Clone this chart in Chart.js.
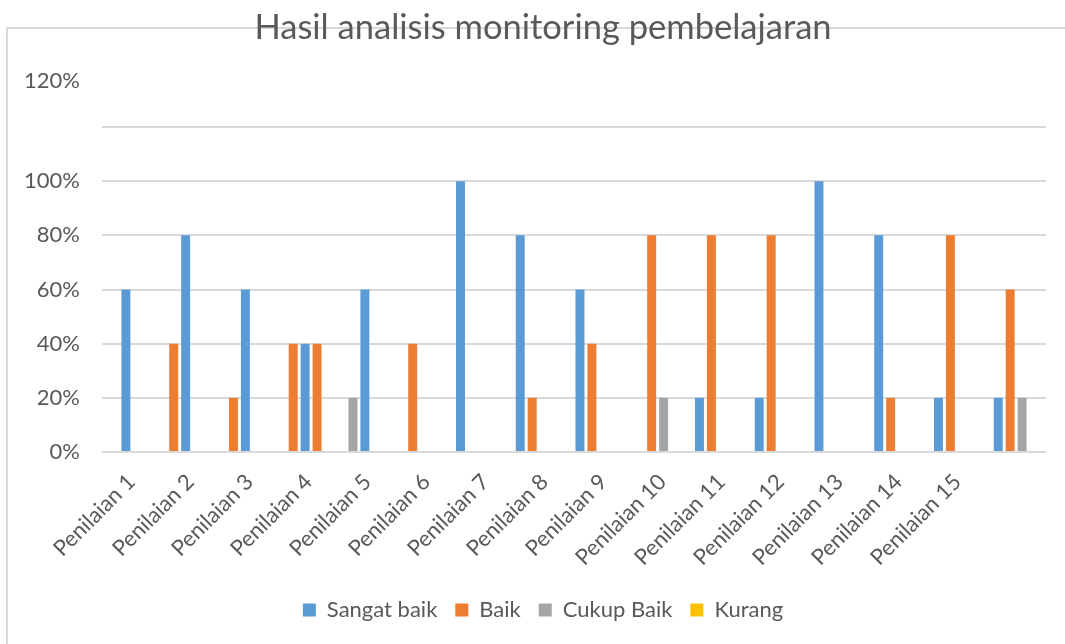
<!DOCTYPE html>
<html>
<head>
<meta charset="utf-8">
<script src="https://cdn.jsdelivr.net/npm/chart.js@4.4.1/dist/chart.umd.min.js"></script>
<style>
html,body{margin:0;padding:0;background:#fff;}
#wrap{width:1065px;height:644px;position:relative;}
canvas{display:block;}
</style>
</head>
<body>
<div id="wrap"><canvas id="c" width="1065" height="644"></canvas></div>
<script>
// ---- data (values in %) ----
const categories = ['Penilaian 1','Penilaian 2','Penilaian 3','Penilaian 4','Penilaian 5','Penilaian 6','Penilaian 7','Penilaian 8','Penilaian 9','Penilaian 10','Penilaian 11','Penilaian 12','Penilaian 13','Penilaian 14','Penilaian 15'];
const seriesNames = ['Sangat baik','Baik','Cukup Baik','Kurang'];
const sangatBaik = [60,80,60,40,60,100,80,60,0,20,20,100,80,20,20];
const baik       = [40,20,40,40,40,0,20,40,80,80,80,0,20,80,60];
const cukupBaik  = [0,0,0,20,0,0,0,0,20,0,0,0,0,0,20];
const kurang     = [0,0,0,0,0,0,0,0,0,0,0,0,0,0,0];
const yTickValues = [0,20,40,60,80,100,120];

// ---- sheet row (slot on the bar axis) where each value is plotted ----
const sheetRows = 80;
const sangatBaikRow = [2,7,12,17,22,30,35,40,null,50,55,60,65,70,75];
const baikRow       = [6,11,16,18,26,null,36,41,46,51,56,null,66,71,76];
const cukupBaikRow  = [null,null,null,21,null,null,null,null,47,null,null,null,null,null,77];
const kurangRow     = [null,null,null,null,null,null,null,null,null,null,null,null,null,null,null];

const colors = ['#5B9BD5','#ED7D31','#A5A5A5','#FFC000'];
const textColor = '#595959';
const gridColor = '#D9D9D9';

function points(values, rows){
  const out = [];
  values.forEach((v,i)=>{ if(rows[i]!==null){ out.push({x: rows[i], y: v}); } });
  return out;
}

Chart.defaults.font.family = 'Lato, "Open Sans", sans-serif';
Chart.defaults.color = textColor;

const frame = {
  id: 'frame',
  afterLayout(chart){
    // let the y tick labels use the left margin too (no clipping)
    chart.scales.y.left = 0;
  },
  beforeDraw(chart){
    const ctx = chart.ctx;
    ctx.save();
    ctx.fillStyle = '#fff';
    ctx.fillRect(0,0,chart.width,chart.height);
    ctx.strokeStyle = gridColor;
    ctx.lineWidth = 2;
    ctx.strokeRect(7, 28, chart.width + 20, chart.height + 20);
    ctx.restore();
  },
  afterDraw(chart){
    const y = chart.scales.y;
    const ctx = chart.ctx;
    ctx.save();
    ctx.font = '22px Lato';
    ctx.fillStyle = textColor;
    ctx.textAlign = 'right';
    ctx.textBaseline = 'middle';
    const top = yTickValues[yTickValues.length-1];
    ctx.fillText(top + '%', y.right - 22, y.getPixelForValue(top) - 46);
    ctx.restore();
  }
};

const rowsBySeries = [sangatBaikRow, baikRow, cukupBaikRow, kurangRow];
const valuesBySeries = [sangatBaik, baik, cukupBaik, kurang];

new Chart(document.getElementById('c'), {
  type: 'bar',
  data: {
    labels: categories.concat(['']),
    datasets: seriesNames.map((name, s) => ({
      label: name,
      data: points(valuesBySeries[s], rowsBySeries[s]),
      backgroundColor: colors[s],
      borderWidth: 0,
      xAxisID: 'slot',
      yAxisID: 'y',
      grouped: false,
      categoryPercentage: 1,
      barPercentage: 0.75
    }))
  },
  options: {
    responsive: false,
    animation: false,
    events: [],
    devicePixelRatio: 1,
    layout: { padding: { left: 40, right: 19, top: 0, bottom: 13 } },
    plugins: {
      title: {
        display: true,
        text: 'Hasil analisis monitoring pembelajaran',
        color: textColor,
        font: { size: 34.5, weight: 'normal' },
        padding: { top: 7, bottom: 78.6 }
      },
      legend: {
        position: 'bottom',
        maxHeight: 50,
        labels: {
          boxWidth: 13,
          boxHeight: 13,
          padding: 18,
          color: textColor,
          font: { size: 22 }
        }
      },
      tooltip: { enabled: false }
    },
    scales: {
      x: {
        type: 'category',
        position: 'bottom',
        offset: true,
        grid: { display: false },
        border: { display: false },
        ticks: { autoSkip: false, minRotation: 45, maxRotation: 45, padding: 9, color: textColor, font: { size: 22 } },
        afterFit(s){ s.height = 129; }
      },
      slot: {
        type: 'linear',
        position: 'bottom',
        display: false,
        offset: false,
        min: 0,
        max: sheetRows - 1,
        ticks: { stepSize: 1 }
      },
      y: {
        min: 0,
        max: yTickValues[yTickValues.length-1],
        afterBuildTicks(s){ s.ticks = yTickValues.map(v => ({value: v})); },
        grid: { color: gridColor, lineWidth: 2, drawTicks: false },
        border: { display: false },
        ticks: {
          padding: 22,
          color: textColor,
          font: { size: 22 },
          callback: v => v === yTickValues[yTickValues.length-1] ? '' : v + '%'
        },
        afterFit(s){ s.width = 62; }
      }
    }
  },
  plugins: [frame]
});
</script>
</body>
</html>
